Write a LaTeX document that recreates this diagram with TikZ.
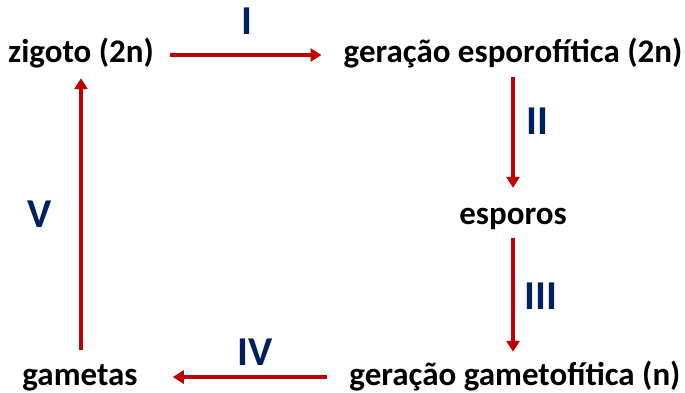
\documentclass[tikz,border=0pt]{standalone}
\usepackage{fontspec}
\setmainfont{Carlito}
\usetikzlibrary{arrows.meta}
\definecolor{seta}{HTML}{C00000}
\definecolor{fase}{HTML}{002060}

\begin{document}
\begin{tikzpicture}[x=1pt,y=-1pt,
	etapa/.style={shape=rectangle,inner sep=0pt,font=\fontsize{33}{36}\selectfont\bfseries,text height=24pt,text depth=8pt},
	rotulo/.style={inner sep=0pt,text=fase,font=\fontsize{41}{44}\selectfont\bfseries},
	ciclo/.style={draw=seta,line width=3.8pt,-{Triangle[length=11pt,width=13pt]}}]
	\useasboundingbox (0,0) rectangle (685,393);
	\node [etapa] (Zig) at (81,55) {zigoto (2n)};
	\node [etapa] (Esp) at (513,55) {geração esporofítica (2n)};
	\node [etapa] (Spo) at (513,216) {esporos};
	\node [etapa] (Gam) at (515,377) {geração gametofítica (n)};
	\node [etapa] (Gmt) at (80,377) {gametas};
	
	\node [rotulo] (LI) at (247,21) {I};
	\node [rotulo] (LII) at (537,121) {II};
	\node [rotulo] (LIII) at (541,296) {III};
	\node [rotulo] (LIV) at (255,352) {IV};
	\node [rotulo] (LV) at (40,214) {V};
	
	\path (Zig.east) edge [ciclo,shorten <=16pt,shorten >=22pt] (Esp.west);
	\path (Esp.south) edge [ciclo,shorten <=6pt,shorten >=12pt] (Spo.north);
	\path (Spo.south) edge [ciclo,shorten <=6pt,shorten >=9pt] (Spo.south |- Gam.north);
	\path (Gam.west) edge [ciclo,shorten <=22pt,shorten >=35pt] (Gmt.east);
	\path (Gmt.north -| Zig.south) edge [ciclo,shorten <=11pt,shorten >=7pt] (Zig.south);
\end{tikzpicture}
\end{document}
